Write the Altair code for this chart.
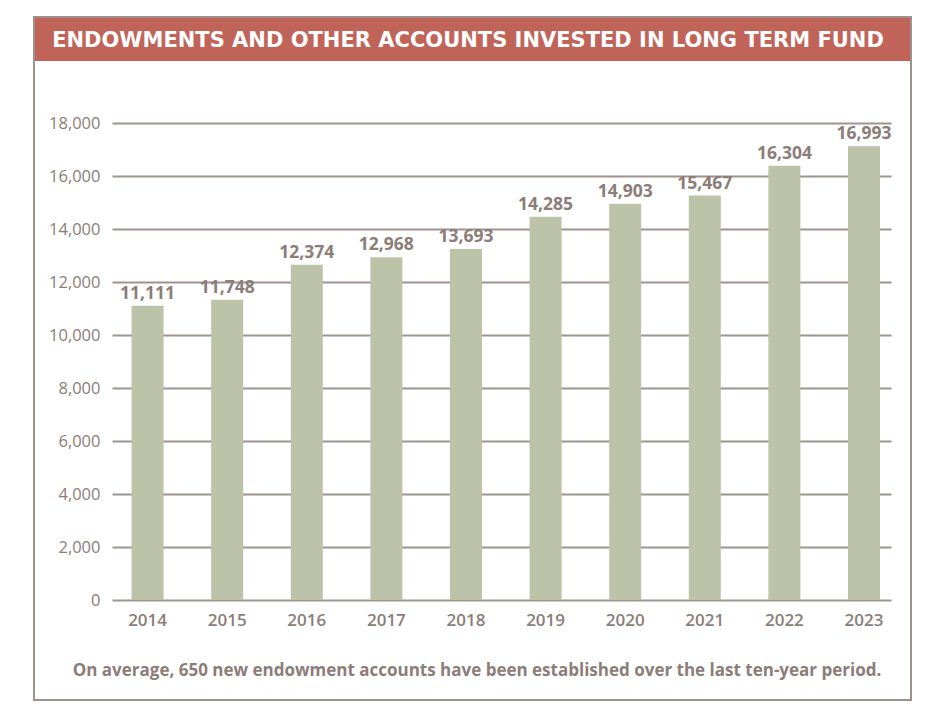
import altair as alt
import pandas as pd

years = ["2014", "2015", "2016", "2017", "2018", "2019", "2020", "2021", "2022", "2023"]
bar_heights = [11100, 11330, 12650, 12930, 13250, 14460, 14950, 15260, 16390, 17120]
labels = [11111, 11748, 12374, 12968, 13693, 14285, 14903, 15467, 16304, 16993]
y_ticks = [0, 2000, 4000, 6000, 8000, 10000, 12000, 14000, 16000, 18000]

title_text = "ENDOWMENTS AND OTHER ACCOUNTS INVESTED IN LONG TERM FUND"
footer_text = "On average, 650 new endowment accounts have been established over the last ten-year period."

TEXT = "#8c7d78"
GRID = "#a0928d"
BORDER = "#9e918c"
BAR = "#bcc3a8"
BAND = "#c0645a"
FONT = "Open Sans"

W, H = 779, 477

df = pd.DataFrame({"year": years, "value": bar_heights, "label": labels})
one = pd.DataFrame({"k": [0]})

x = alt.X(
    "year:N",
    sort=years,
    title=None,
    scale=alt.Scale(paddingInner=0.598, paddingOuter=0.192, align=0.64),
    axis=alt.Axis(
        domain=False, ticks=False, labelPadding=12, labelFont=FONT,
        labelFontSize=17, labelFontWeight=600, labelColor=TEXT, labelAngle=0,
    ),
)
y = alt.Y(
    "value:Q",
    title=None,
    scale=alt.Scale(domain=[0, 18000], nice=False, zero=True),
    axis=alt.Axis(
        values=y_ticks, format=",.0f", domain=False, ticks=False, labelPadding=12,
        labelFont=FONT, labelFontSize=16.5, labelFontWeight=500, labelColor=TEXT,
        grid=True, gridColor=GRID, gridWidth=1.8, gridOpacity=1,
    ),
)

bars = alt.Chart(df).mark_bar(color=BAR).encode(x=x, y=y)
texts = alt.Chart(df).mark_text(
    baseline="bottom", dy=-3, font=FONT, fontSize=17.5, fontWeight="bold", color=TEXT
).encode(x=alt.X("year:N", sort=years), y="value:Q", text=alt.Text("label:Q", format=",.0f"))

box = alt.Chart(one).mark_rect(filled=False, stroke=BORDER, strokeWidth=2).encode(
    x=alt.value(-78), x2=alt.value(799), y=alt.value(-106), y2=alt.value(577)
)
band = alt.Chart(one).mark_rect(color=BAND).encode(
    x=alt.value(-77), x2=alt.value(798), y=alt.value(-105), y2=alt.value(-62)
)
title = alt.Chart(one).mark_text(
    text=title_text, font="DejaVu Sans", fontSize=21, fontWeight="bold", color="white",
    align="center", baseline="middle"
).encode(x=alt.value(356), y=alt.value(-82))
footer = alt.Chart(one).mark_text(
    text=footer_text, font=FONT, fontSize=17, fontWeight="bold", color=TEXT,
    align="center", baseline="alphabetic"
).encode(x=alt.value(365), y=alt.value(553))

chart = alt.layer(band, bars, texts, box, title, footer).properties(
    width=W, height=H,
    autosize=alt.AutoSizeParams(type="none"),
    padding={"left": 104, "top": 115, "right": 25, "bottom": 101},
    background="white",
).configure_view(stroke=None)

chart.save("out.html", embed_options={"renderer": "svg", "actions": False})
